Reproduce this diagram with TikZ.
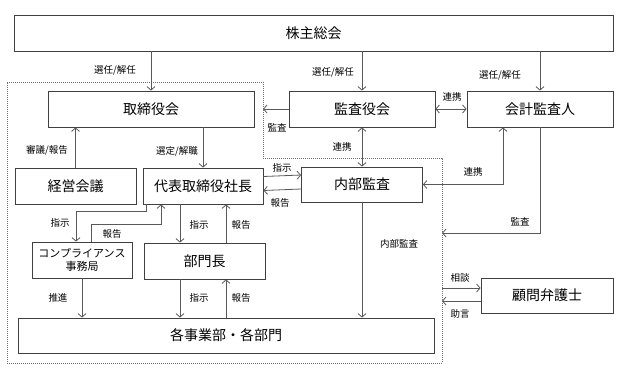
\documentclass[tikz,border=0pt]{standalone}
\usepackage{fontspec}
\setmainfont{Noto Sans CJK JP}
\usetikzlibrary{arrows.meta}
\definecolor{boxc}{HTML}{404040}
\definecolor{linec}{HTML}{595959}
\definecolor{dashc}{HTML}{707070}
\tikzset{
  box/.style={draw=boxc, line width=0.8pt, rectangle, inner sep=0pt, align=center, font=\fontsize{14}{16}\selectfont},
  arr/.style={draw=linec, line width=0.8pt, -{Straight Barb[length=3.5pt,width=8pt]}},
  darr/.style={draw=linec, line width=0.8pt, {Straight Barb[length=3.5pt,width=8pt]}-{Straight Barb[length=3.5pt,width=8pt]}},
  lbl/.style={inner sep=0pt, font=\fontsize{9.5}{11}\selectfont},
  bound/.style={draw=dashc, line width=0.7pt, dash pattern=on 1pt off 1pt}
}
\begin{document}
\begin{tikzpicture}[x=1pt,y=-1pt]
\useasboundingbox (0,0) rectangle (627,372);
% dashed boundary
\coordinate (d1) at (7,82);
\coordinate (d2) at (263,82);
\coordinate (d3) at (263,158);
\coordinate (d4) at (442,158);
\coordinate (d5) at (442,363);
\coordinate (d6) at (7,363);
\draw[bound] (d1) -- (d2) -- (d3) -- (d4) -- (d5) -- (d6) -- cycle;
\coordinate (auditend) at (442,233);
\coordinate (sodanstart) at (442,288);
\coordinate (jogenend) at (442,301);

% boxes
\node[box, minimum width=599pt, minimum height=36pt] (gm) at (313.5,33) {株主総会};
\node[box, minimum width=206pt, minimum height=36pt] (bod) at (151,109) {取締役会};
\node[box, minimum width=146pt, minimum height=36pt] (kansa) at (362,109) {監査役会};
\node[box, minimum width=146pt, minimum height=36pt] (kaikei) at (540,109) {会計監査人};
\node[box, minimum width=121pt, minimum height=36pt] (keiei) at (75.5,186) {経営会議};
\node[box, minimum width=120pt, minimum height=36pt] (ceo) at (203,186) {代表取締役社長};
\node[box, minimum width=121pt, minimum height=35pt] (naibu) at (362,184.5) {内部監査};
\node[box, minimum width=100pt, minimum height=36pt, font=\fontsize{11}{13}\selectfont] (comp) at (82,260) {コンプライアンス\\事務局};
\node[box, minimum width=121pt, minimum height=36pt] (bumon) at (204.5,261) {部門長};
\node[box, minimum width=132pt, minimum height=35pt] (lawyer) at (547,295.5) {顧問弁護士};
\node[box, minimum width=416pt, minimum height=35pt] (each) at (226,335.5) {各事業部・各部門};

% connectors
\draw[arr] (bod.north |- gm.south) -- (bod.north);
\draw[arr] (kansa.north |- gm.south) -- (kansa.north);
\draw[arr] (kaikei.north |- gm.south) -- (kaikei.north);
\draw[darr] (kansa.east) -- (kaikei.west);
\draw[arr] (kansa.west) -- (kansa.west -| d2);
\draw[darr] (kansa.south) -- (naibu.north);
\draw[darr] (naibu.east) -| ([xshift=-37pt]kaikei.south);
\draw[arr] (kaikei.south) |- (auditend);
\draw[arr] (naibu.south) -- ([xshift=136pt]each.north);
\draw[arr] (sodanstart) -- (lawyer.west |- sodanstart);
\draw[arr] (lawyer.west |- jogenend) -- (jogenend);
\draw[arr] (ceo.north |- bod.south) -- (ceo.north);
\draw[arr] (keiei.north) -- ([xshift=-75.5pt]bod.south);
\draw[arr] ([yshift=9.5pt]ceo.east) -- ([yshift=9.5pt]naibu.west);
\draw[arr] ([yshift=-4.5pt]naibu.west) -- ([yshift=-4.5pt]ceo.east);
\draw[arr] ([xshift=-57pt]ceo.south) -- ++(0,7) -| ([xshift=-6pt]comp.north);
\draw[arr] ([xshift=9pt]comp.north) -- ++(0,-17) -| ([xshift=-42pt]ceo.south);
\draw[arr] (comp.south) -- ([xshift=-144pt]each.north);
\draw[arr] ([xshift=-23pt]ceo.south) -- ([xshift=-24.5pt]bumon.north);
\draw[arr] ([xshift=21.5pt]bumon.north) -- ([xshift=23pt]ceo.south);
\draw[arr] ([xshift=-24.5pt]bumon.south) -- ([xshift=-46pt]each.north);
\draw[arr] (each.north) -- ([xshift=21.5pt]bumon.south);

% labels
\node[lbl] (l1) at (115,70) {選任/解任};
\node[lbl] (l2) at (333,72) {選任/解任};
\node[lbl] (l3) at (500,75) {選任/解任};
\node[lbl] (l4) at (452,97) {連携};
\node[lbl] (l5) at (277,128) {監査};
\node[lbl] (l6) at (342,147) {連携};
\node[lbl] (l7) at (473,172) {連携};
\node[lbl] (l8) at (520,222) {監査};
\node[lbl] (l9) at (399,244) {内部監査};
\node[lbl] (l10) at (460,278) {相談};
\node[lbl] (l11) at (460,314) {助言};
\node[lbl] (l12) at (47,150) {審議/報告};
\node[lbl] (l13) at (177,151) {選定/解職};
\node[lbl] (l14) at (282,168) {指示};
\node[lbl] (l15) at (280,203) {報告};
\node[lbl] (l16) at (60,223) {指示};
\node[lbl] (l17) at (112,234) {報告};
\node[lbl] (l18) at (58,298) {推進};
\node[lbl] (l19) at (199,225) {指示};
\node[lbl] (l20) at (241,225) {報告};
\node[lbl] (l21) at (199,298) {指示};
\node[lbl] (l22) at (241,298) {報告};
\end{tikzpicture}
\end{document}
